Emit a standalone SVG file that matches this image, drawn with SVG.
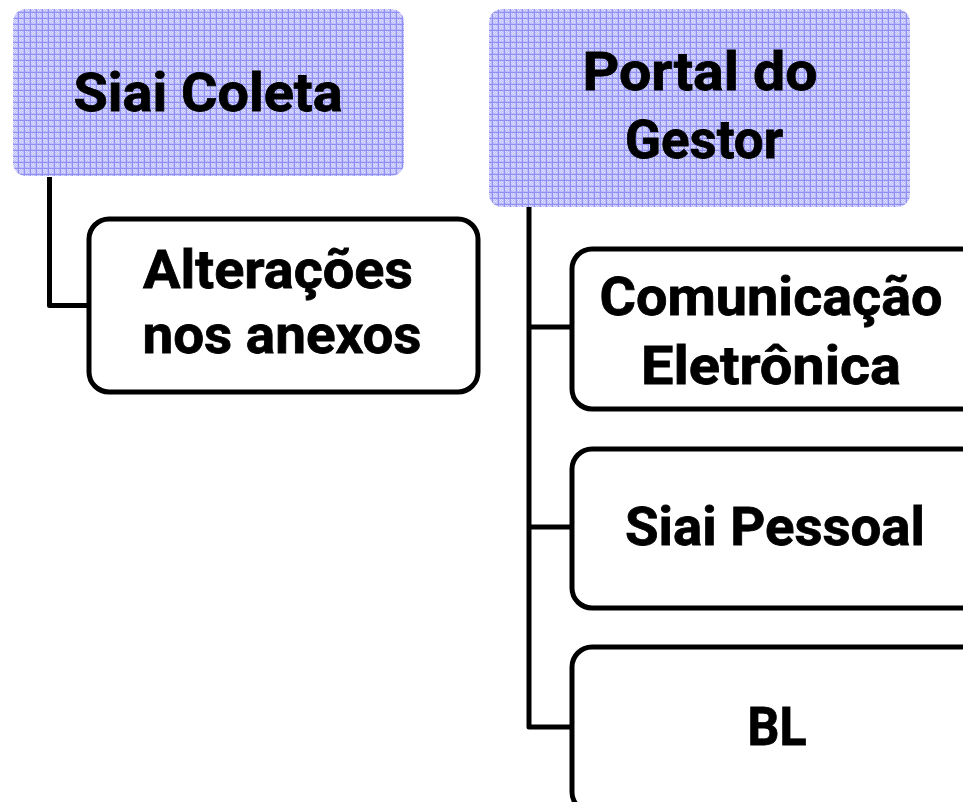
<svg xmlns="http://www.w3.org/2000/svg" width="963" height="802" viewBox="0 0 963 802">
<style>
.top{fill:url(#hatch);}
.child{fill:#ffffff;stroke:#000000;stroke-width:5;}
.conn{fill:none;stroke:#000000;stroke-width:5;stroke-linejoin:round;}
text{font-family:Roboto,"Open Sans","Liberation Sans",sans-serif;font-weight:bold;font-size:54px;fill:#000000;stroke:#000000;stroke-width:0.8;text-anchor:middle;}
</style>
<defs>
<pattern id="hatch" x="0" y="0" width="6" height="6" patternUnits="userSpaceOnUse">
<rect x="0" y="0" width="6" height="6" fill="#bcbcfa"/>
<rect x="1" y="1" width="1" height="1" fill="#e0e0ff"/>
<rect x="3" y="1" width="1" height="1" fill="#e0e0ff"/>
<rect x="2" y="2" width="1" height="1" fill="#e0e0ff"/>
<rect x="4" y="2" width="1" height="1" fill="#e0e0ff"/>
<rect x="1" y="3" width="1" height="1" fill="#e0e0ff"/>
<rect x="3" y="3" width="1" height="1" fill="#e0e0ff"/>
<rect x="2" y="4" width="1" height="1" fill="#e0e0ff"/>
<rect x="4" y="4" width="1" height="1" fill="#e0e0ff"/>
<rect x="0" y="0" width="6" height="1" fill="#9090f2"/>
<rect x="0" y="0" width="1" height="6" fill="#9090f2"/>
</pattern>
</defs>
<g id="connectors">
<path class="conn" d="M49.5,177 V305.5 H89"/>
<path class="conn" d="M529,207 V727 H572 M529,327 H572 M529,527 H572"/>
</g>
<g id="siai-coleta">
<rect class="top" x="13" y="9" width="391" height="167" rx="13"/>
<text x="208" y="111" textLength="269" lengthAdjust="spacingAndGlyphs">Siai Coleta</text>
</g>
<g id="portal-gestor">
<rect class="top" x="489" y="9" width="421" height="198" rx="13"/>
<text x="700" y="90" textLength="235" lengthAdjust="spacingAndGlyphs">Portal do</text>
<text x="704" y="158" textLength="158" lengthAdjust="spacingAndGlyphs">Gestor</text>
</g>
<g id="alteracoes">
<rect class="child" x="89" y="219" width="389" height="173" rx="20"/>
<text x="278" y="288" textLength="270" lengthAdjust="spacingAndGlyphs">Alterações</text>
<text x="282" y="353" textLength="279" lengthAdjust="spacingAndGlyphs">nos anexos</text>
</g>
<g id="comunicacao">
<rect class="child" x="572" y="249" width="410" height="160" rx="20"/>
<text x="771" y="315" textLength="343" lengthAdjust="spacingAndGlyphs">Comunicação</text>
<text x="771" y="384" textLength="260" lengthAdjust="spacingAndGlyphs">Eletrônica</text>
</g>
<g id="siai-pessoal">
<rect class="child" x="572" y="449" width="410" height="159" rx="20"/>
<text x="775" y="545" textLength="300" lengthAdjust="spacingAndGlyphs">Siai Pessoal</text>
</g>
<g id="bl">
<rect class="child" x="572" y="647" width="410" height="165" rx="20"/>
<text x="777" y="745" textLength="59" lengthAdjust="spacingAndGlyphs">BL</text>
</g>
</svg>
